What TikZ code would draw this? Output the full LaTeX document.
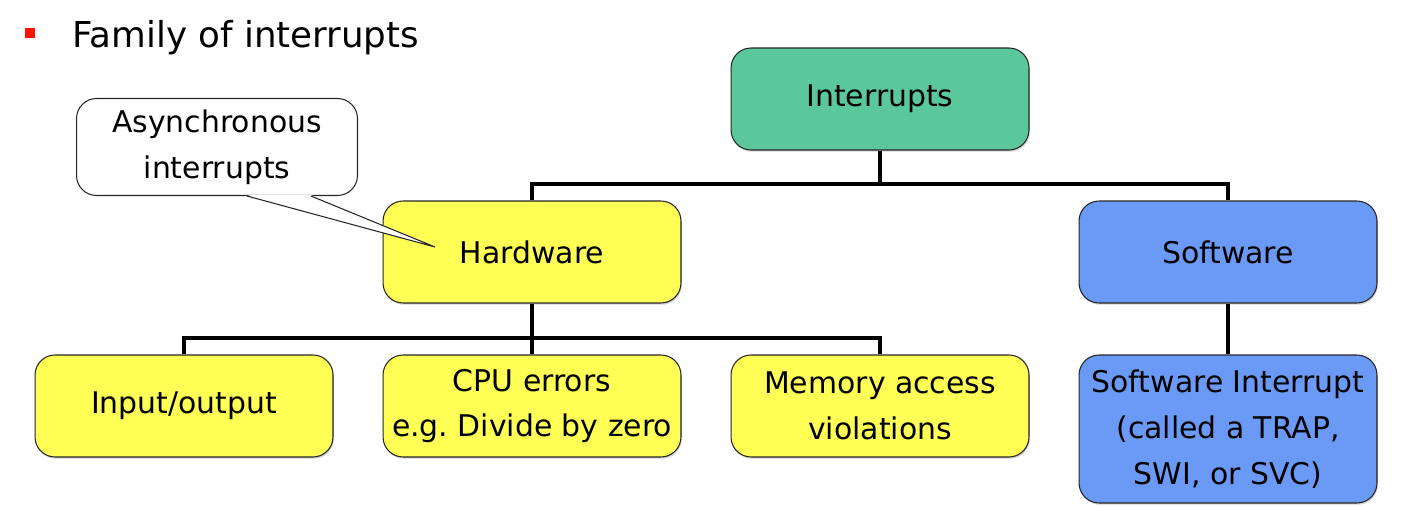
\documentclass[tikz,border=0pt]{standalone}
\usepackage{fontspec}
\setmainfont{DejaVu Sans}
\usepackage{xcolor}
\usetikzlibrary{calc,shadows}

\definecolor{intgreen}{RGB}{90,200,154}
\definecolor{hwyellow}{RGB}{255,255,85}
\definecolor{swblue}{RGB}{107,154,246}
\newcommand{\boxfont}{\fontsize{17}{26}\selectfont}

\begin{document}
\begin{tikzpicture}[x=0.02cm,y=-0.02cm,
	box/.style={draw=black!85, line width=0.6pt, rounded corners=0.4cm, minimum width=5.96cm, minimum height=2.04cm, align=center, font=\boxfont, drop shadow={shadow xshift=0.5pt, shadow yshift=-1pt, opacity=0.35}},
	wire/.style={line width=2.6pt}]
	\useasboundingbox (0,0) rectangle (1408,506);
	%title line with its bullet
	\node (dot) [fill=red!85!orange, minimum size=0.2cm, inner sep=0] at (30,33){};
	\node (title) [anchor=base west, inner sep=0, font=\fontsize{20.3}{25}\selectfont] at (72,48){Family of interrupts};
	%% the tree, top row first
	\node (int) [box, fill=intgreen] at (880,99){Interrupts};
	\node (hw) [box, fill=hwyellow] at (532,252){Hardware};
	\node (sw) [box, fill=swblue] at (1228,252){Software};
	\node (io) [box, fill=hwyellow] at (184,406){Input/output};
	\node (cpu) [box, fill=hwyellow] at (532,406){CPU errors\\e.g.\ Divide by zero};
	\node (mem) [box, fill=hwyellow] at (880,406){Memory access\\violations};
	\node (swi) [box, fill=swblue, minimum height=2.96cm] at (1228,429){Software Interrupt\\(called a TRAP,\\SWI, or SVC)};
	%% joints of the connectors
	\coordinate (j1) at (880,184);
	\coordinate (j2) at (532,338);
	\draw [wire](int.south) -- (j1);
	\draw [wire](hw.north) |- (j1) -| (sw.north);
	\draw [wire](hw.south) -- (j2);
	\draw [wire](io.north) |- (j2) -| (mem.north);
	\draw [wire](j2) -- (cpu.north);
	\draw [wire](sw.south) -- (swi.north);
	%% the callout on hardware
	\node (note) [draw=black!85, line width=0.6pt, fill=white, rounded corners=0.4cm, minimum width=5.62cm, minimum height=1.94cm, align=center, font=\boxfont] at (217,147){Asynchronous\\interrupts};
	\coordinate (tip) at (435,247);
	\coordinate (p1) at ($(note.south west)+(171,0)$);
	\coordinate (p2) at ($(note.south west)+(235,0)$);
	\fill [white](p1) ++(0,-1) -- (tip) -- ($(p2)+(0,-1)$) -- cycle;
	\draw [black!85, line width=0.6pt](p1) -- (tip) -- (p2);
\end{tikzpicture}
\end{document}
